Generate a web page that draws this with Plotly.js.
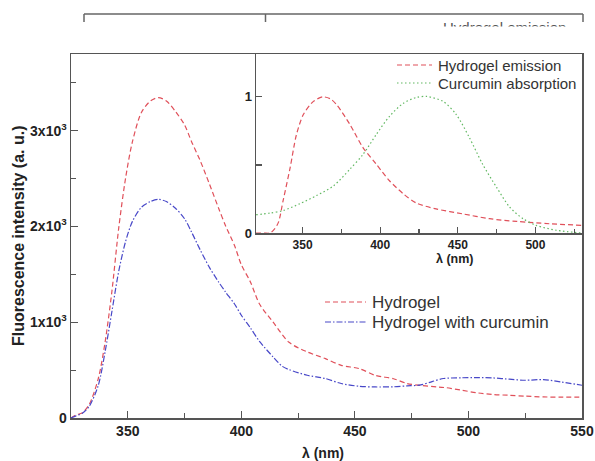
<!DOCTYPE html>
<html>
<head>
<meta charset="utf-8">
<script src="https://cdn.plot.ly/plotly-3.0.1.min.js"></script>
<style>html,body{margin:0;padding:0;background:#fff;}#chart{width:595px;height:461px;}</style>
</head>
<body>
<div id="chart"></div>
<script>
// ---- Main plot data ----
const wlHydrogel = [325,327,330,333,337,340,343,346,349,352,356,360,363.5,367,371,375,378,382,386,390,393,397,400,404,408,414,421,429,437,444,452,459,467,473,479,487,490,497,504,511,518,525,533,541,550];
const hydrogel = [0,30,55,140,410,790,1320,1980,2500,2880,3190,3310,3345,3310,3200,3060,2890,2680,2440,2190,2010,1800,1600,1420,1190,1000,790,690,620,550,515,445,410,360,340,322,317,290,262,245,237,228,220,218,218];
const wlCurcumin = [325,327,330,333,337,340,343,346,349,352,356,360,363.5,367,371,375,378,382,386,390,393,397,400,404,408,414,418,421,429,437,444,452,459,467,473,479,484,489,497,504,511,518,525,533,541,550];
const hydrogelCurcumin = [0,20,50,120,340,690,1110,1530,1840,2050,2200,2260,2282,2260,2190,2080,1945,1750,1570,1420,1317,1190,1073,940,800,637,540,505,446,412,360,331,324,326,335,345,380,412,420,422,418,405,394,401,375,342];
// ---- Inset data ----
const wlEmission = [320,325,329,332,334.5,337.5,342,346,350.5,357,363,368,372,380.5,389,397.5,406,415,423.5,436,453,470.5,488,509,530];
const emission = [0,0,0,0.03,0.08,0.24,0.48,0.72,0.87,0.967,1.0,0.985,0.942,0.797,0.626,0.505,0.384,0.287,0.219,0.177,0.141,0.105,0.085,0.068,0.056];
const wlAbsorption = [320,329,337.5,348,359,370,380.5,389,397.5,406,415,423.5,430,440.5,449,457.5,466,475,483.5,492,500.5,513.5,530];
const absorption = [0.134,0.146,0.165,0.214,0.275,0.347,0.469,0.578,0.724,0.857,0.954,0.996,1.003,0.967,0.87,0.70,0.505,0.335,0.189,0.105,0.056,0.02,0.0];
// ---- Tick labels ----
const mainXTicks = [350,400,450,500,550];
const mainXMinor = [375,425,475,525];
const mainYTicks = [0,1000,2000,3000];
const mainYTickText = ['0','1x10<sup>3</sup>','2x10<sup>3</sup>','3x10<sup>3</sup>'];
const mainYMinor = [500,1500,2500,3500];
const insetXTicks = [350,400,450,500];
const insetXMinor = [375,425,475,525];
const insetYTicks = [0,1];
const insetYMinor = [0.5];
const names = ['Hydrogel','Hydrogel with curcumin','Hydrogel emission','Curcumin absorption'];

const RED = '#e0505a', BLUE = '#4848c8', GREEN = '#62b862';
const FONT = 'Arial, "Liberation Sans", sans-serif';
const AX = '#555';
// pixel -> paper helpers (layout positions only)
const L = 71, R = 582, T = 54, B = 418;
const fx = p => (p - L) / (R - L);
const fy = p => (B - p) / (B - T);

const redLine = {color: RED, width: 1.2, dash: '5px,3px', shape: 'spline', smoothing: 0.8};
const blueLine = {color: BLUE, width: 1.2, dash: '6px,2px,1.5px,2px', shape: 'spline', smoothing: 0.8};
const greenLine = {color: GREEN, width: 1.2, dash: '1.5px,2.5px', shape: 'spline', smoothing: 0.8};

const traces = [
  {x: wlHydrogel, y: hydrogel, name: names[0], mode: 'lines', line: redLine, xaxis: 'x', yaxis: 'y'},
  {x: wlCurcumin, y: hydrogelCurcumin, name: names[1], mode: 'lines', line: blueLine, xaxis: 'x', yaxis: 'y'},
  {x: wlEmission, y: emission, name: names[2], mode: 'lines', line: redLine, xaxis: 'x2', yaxis: 'y2'},
  {x: wlAbsorption, y: absorption, name: names[3], mode: 'lines', line: greenLine, xaxis: 'x2', yaxis: 'y2'}
];

const tickFont = s => ({family: FONT, size: s, color: '#222', weight: 'bold'});
const axBase = {showline: true, linecolor: AX, linewidth: 1.5, mirror: true, ticks: 'inside', tickcolor: AX, tickwidth: 1.2, showgrid: false, zeroline: false, fixedrange: true};

function legendShape(x0, x1, y, line) {
  return {type: 'line', xref: 'paper', yref: 'paper', x0: fx(x0), x1: fx(x1), y0: fy(y), y1: fy(y),
          line: {color: line.color, width: line.width, dash: line.dash}};
}
function legendText(x, y, text, size) {
  return {xref: 'paper', yref: 'paper', x: fx(x), y: fy(y), xanchor: 'left', yanchor: 'middle', text: text,
          showarrow: false, font: {family: FONT, size: size, color: '#333'}};
}

const layout = {
  width: 595, height: 461,
  margin: {l: L, r: 595 - R, t: T, b: 461 - B, pad: 0},
  paper_bgcolor: '#fff', plot_bgcolor: '#fff',
  showlegend: false,
  xaxis: Object.assign({}, axBase, {range: [325, 550], tickvals: mainXTicks, ticklen: 7, tickfont: tickFont(14),
         minor: {tickvals: mainXMinor, ticks: 'inside', ticklen: 5, tickcolor: AX, tickwidth: 1.2}}),
  yaxis: Object.assign({}, axBase, {range: [0, 3800], tickvals: mainYTicks, ticktext: mainYTickText, ticklen: 7, tickfont: tickFont(14),
         minor: {tickvals: mainYMinor, ticks: 'inside', ticklen: 5, tickcolor: AX, tickwidth: 1.2}}),
  xaxis2: Object.assign({}, axBase, {domain: [fx(256), 1], anchor: 'y2', range: [320, 530], tickvals: insetXTicks, ticklen: 6, tickfont: tickFont(12),
         minor: {tickvals: insetXMinor, ticks: 'inside', ticklen: 4, tickcolor: AX, tickwidth: 1.2}}),
  yaxis2: Object.assign({}, axBase, {domain: [fy(233), 1], anchor: 'x2', range: [0, 1.315], tickvals: insetYTicks, ticklen: 6, tickfont: tickFont(13),
         minor: {tickvals: insetYMinor, ticks: 'inside', ticklen: 6, tickcolor: AX, tickwidth: 1.2}}),
  shapes: [
    legendShape(325, 366, 302, redLine),
    legendShape(325, 366, 322, blueLine),
    legendShape(397, 432, 65, redLine),
    legendShape(397, 432, 83, greenLine),
    // clipped duplicate frame at top of the image
    {type: 'line', xref: 'paper', yref: 'paper', x0: fx(84), x1: fx(583), y0: fy(14), y1: fy(14), line: {color: '#666', width: 1.5}},
    {type: 'line', xref: 'paper', yref: 'paper', x0: fx(84), x1: fx(84), y0: fy(14), y1: fy(22), line: {color: '#666', width: 1.5}},
    {type: 'line', xref: 'paper', yref: 'paper', x0: fx(265.5), x1: fx(265.5), y0: fy(14), y1: fy(22), line: {color: '#666', width: 1.5}},
    {type: 'line', xref: 'paper', yref: 'paper', x0: fx(583), x1: fx(583), y0: fy(14), y1: fy(22), line: {color: '#666', width: 1.5}}
  ],
  annotations: [
    legendText(370, 302, names[0], 17),
    legendText(370, 322, names[1], 17),
    legendText(436, 65, names[2], 15),
    legendText(436, 83, names[3], 15),
    {xref: 'paper', yref: 'paper', x: fx(322.5), y: fy(453), xanchor: 'center', yanchor: 'middle', text: 'λ (nm)', showarrow: false,
     font: {family: FONT, size: 14, color: '#222', weight: 'bold'}},
    {xref: 'paper', yref: 'paper', x: fx(18), y: fy(236), xanchor: 'center', yanchor: 'middle', textangle: -90, text: 'Fluorescence intensity (a. u.)', showarrow: false,
     font: {family: FONT, size: 16, color: '#222', weight: 'bold'}},
    {xref: 'paper', yref: 'paper', x: fx(455), y: fy(258.5), xanchor: 'center', yanchor: 'middle', text: 'λ (nm)', showarrow: false,
     font: {family: FONT, size: 12.5, color: '#222', weight: 'bold'}},
    // clipped duplicate legend text at the top
    {xref: 'paper', yref: 'paper', x: fx(441), y: fy(17), xanchor: 'left', yanchor: 'top', text: names[2], showarrow: false,
     font: {family: FONT, size: 15, color: '#555'}},
    {xref: 'paper', yref: 'paper', x: fx(430), y: fy(25.5), xanchor: 'left', yanchor: 'top', text: ' ', showarrow: false,
     width: 145, height: 22, bgcolor: '#fff', borderpad: 0, font: {size: 10}}
  ]
};

Plotly.newPlot('chart', traces, layout, {displayModeBar: false, staticPlot: true});
</script>
</body>
</html>
